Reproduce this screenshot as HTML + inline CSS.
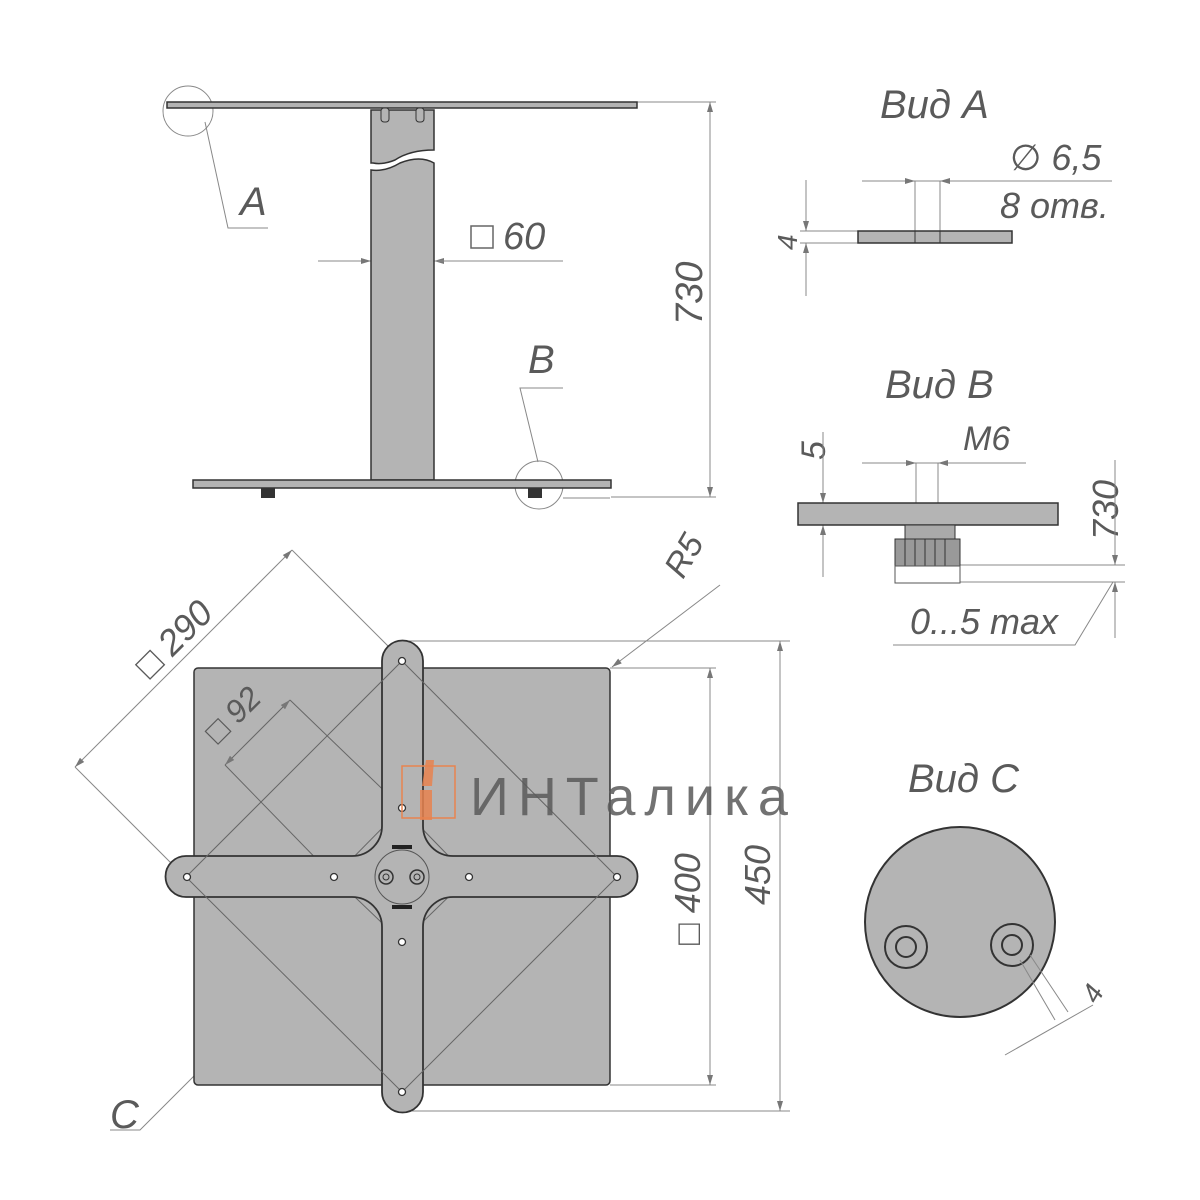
<!DOCTYPE html>
<html><head><meta charset="utf-8"><style>
html,body{margin:0;padding:0;background:#fff;}
svg{display:block}
text{font-family:"Liberation Sans","DejaVu Sans",sans-serif;font-style:italic;fill:#5a5a5a;}
</style></head><body>
<svg width="1200" height="1200" viewBox="0 0 1200 1200" xmlns="http://www.w3.org/2000/svg">
<defs>
<marker id="ar" viewBox="0 0 10 6" refX="10" refY="3" markerWidth="14" markerHeight="6" orient="auto-start-reverse" markerUnits="userSpaceOnUse"><path d="M0,0 L10,3 L0,6 Z" fill="#777"/></marker>
</defs>
<rect width="1200" height="1200" fill="#fff"/>
<g stroke="#888" stroke-width="1" fill="none">
<line x1="637" y1="102" x2="716" y2="102"/>
<line x1="611" y1="497" x2="716" y2="497"/>
<line x1="710" y1="102" x2="710" y2="497" marker-start="url(#ar)" marker-end="url(#ar)"/>
<line x1="318" y1="261" x2="371" y2="261" marker-end="url(#ar)"/>
<line x1="483" y1="261" x2="434" y2="261" marker-end="url(#ar)"/>
<line x1="371" y1="261" x2="563" y2="261"/>
<polyline points="205,122 228,228 268,228"/>
<polyline points="563,388 520,388 538,462"/>
<line x1="563" y1="498" x2="610" y2="498"/>
<circle cx="188" cy="111" r="25"/>
<circle cx="539" cy="485" r="24"/>
</g>
<rect x="167" y="102" width="470" height="6" fill="#b4b4b4" stroke="#333" stroke-width="1.5"/>
<path d="M371,110 L434,110 L434,150 Q410,150 395,160 Q383,165 373,163 L371,163 Z" fill="#b4b4b4" stroke="#333" stroke-width="1.5"/>
<path d="M371,170 Q385,172 400,163 Q420,155 434,163 L434,480 L371,480 Z" fill="#b4b4b4" stroke="#333" stroke-width="1.5"/>
<rect x="381" y="108" width="8" height="14" rx="3" fill="#b4b4b4" stroke="#333"/>
<rect x="416" y="108" width="8" height="14" rx="3" fill="#b4b4b4" stroke="#333"/>
<rect x="193" y="480" width="418" height="8" fill="#b4b4b4" stroke="#333" stroke-width="1.5"/>
<rect x="261" y="488" width="14" height="10" fill="#333"/>
<rect x="528" y="488" width="14" height="10" fill="#333"/>
<text x="240" y="215" font-size="40">A</text>
<text x="528" y="373" font-size="40">B</text>
<rect x="471" y="226" width="22" height="22" fill="none" stroke="#666" stroke-width="1.5"/>
<text x="503" y="249" font-size="38">60</text>
<text transform="translate(702,325) rotate(-90)" font-size="38">730</text>

<text x="880" y="118" font-size="40">Вид А</text>
<g stroke="#888" fill="none">
<line x1="862" y1="181" x2="1112" y2="181"/>
<line x1="915" y1="181" x2="915" y2="231"/><line x1="940" y1="181" x2="940" y2="231"/>
<line x1="872" y1="181" x2="915" y2="181" marker-end="url(#ar)"/>
<line x1="980" y1="181" x2="940" y2="181" marker-end="url(#ar)"/>
<line x1="800" y1="231" x2="858" y2="231"/><line x1="800" y1="243" x2="858" y2="243"/>
<line x1="806" y1="180" x2="806" y2="231" marker-end="url(#ar)"/>
<line x1="806" y1="296" x2="806" y2="243" marker-end="url(#ar)"/>
</g>
<rect x="858" y="231" width="154" height="12" fill="#b4b4b4" stroke="#333" stroke-width="1.5"/>
<line x1="915" y1="231" x2="915" y2="243" stroke="#333"/><line x1="940" y1="231" x2="940" y2="243" stroke="#333"/>
<text x="1010" y="170" font-size="36">∅ 6,5</text>
<text x="1000" y="218" font-size="36">8 отв.</text>
<text transform="translate(797,250) rotate(-90)" font-size="28">4</text>

<text x="885" y="398" font-size="40">Вид В</text>
<text x="963" y="450" font-size="34">M6</text>
<text transform="translate(825,460) rotate(-90)" font-size="34">5</text>
<text transform="translate(1118,540) rotate(-90)" font-size="36">730</text>
<text x="910" y="634" font-size="36">0...5 max</text>
<g stroke="#888" fill="none">
<line x1="862" y1="463" x2="1026" y2="463"/>
<line x1="916" y1="463" x2="916" y2="503"/><line x1="938" y1="463" x2="938" y2="503"/>
<line x1="872" y1="463" x2="916" y2="463" marker-end="url(#ar)"/>
<line x1="982" y1="463" x2="938" y2="463" marker-end="url(#ar)"/>
<line x1="823" y1="432" x2="823" y2="503" marker-end="url(#ar)"/>
<line x1="823" y1="577" x2="823" y2="525" marker-end="url(#ar)"/>
<line x1="960" y1="565" x2="1125" y2="565"/><line x1="960" y1="582" x2="1125" y2="582"/>
<line x1="1115" y1="460" x2="1115" y2="565" marker-end="url(#ar)"/>
<line x1="1115" y1="638" x2="1115" y2="582" marker-end="url(#ar)"/>
<polyline points="893,645 1075,645 1113,582"/>
</g>
<rect x="798" y="503" width="260" height="22" fill="#b4b4b4" stroke="#333" stroke-width="1.5"/>
<rect x="905" y="525" width="50" height="14" fill="#aaa" stroke="#333"/>
<rect x="895" y="539" width="65" height="27" fill="#999" stroke="#333"/>
<g stroke="#333" stroke-width="1"><line x1="905" y1="539" x2="905" y2="566"/><line x1="915" y1="539" x2="915" y2="566"/><line x1="925" y1="539" x2="925" y2="566"/><line x1="935" y1="539" x2="935" y2="566"/><line x1="945" y1="539" x2="945" y2="566"/></g>
<rect x="895" y="566" width="65" height="17" fill="#fff" stroke="#555"/>

<text x="908" y="792" font-size="40">Вид С</text>
<circle cx="960" cy="922" r="95" fill="#b4b4b4" stroke="#333" stroke-width="2"/>
<circle cx="906" cy="947" r="21" fill="#b4b4b4" stroke="#333" stroke-width="2"/>
<circle cx="906" cy="947" r="10" fill="#b4b4b4" stroke="#333" stroke-width="2"/>
<circle cx="1012" cy="945" r="21" fill="#b4b4b4" stroke="#333" stroke-width="2"/>
<circle cx="1012" cy="945" r="10" fill="#b4b4b4" stroke="#333" stroke-width="2"/>
<g stroke="#888" fill="none">
<line x1="1020" y1="960" x2="1055" y2="1020"/><line x1="1030" y1="955" x2="1068" y2="1012"/>
<line x1="1005" y1="1055" x2="1093" y2="1005"/>
</g>
<text transform="translate(1097,1005) rotate(-60)" font-size="28">4</text>

<g stroke="#888" fill="none">
<line x1="400" y1="641" x2="790" y2="641"/>
<line x1="400" y1="1111" x2="790" y2="1111"/>
<line x1="610" y1="668" x2="716" y2="668"/>
<line x1="610" y1="1085" x2="716" y2="1085"/>
<line x1="780" y1="641" x2="780" y2="1111" marker-start="url(#ar)" marker-end="url(#ar)"/>
<line x1="710" y1="668" x2="710" y2="1085" marker-start="url(#ar)" marker-end="url(#ar)"/>
<line x1="720" y1="585" x2="612" y2="667" marker-end="url(#ar)"/>
<line x1="75" y1="767" x2="292" y2="550" marker-start="url(#ar)" marker-end="url(#ar)"/>
<line x1="292" y1="550" x2="402" y2="660"/>
<line x1="75" y1="767" x2="185" y2="877"/>
<polyline points="110,1130 140,1130 210,1060"/>
</g>
<rect x="194" y="668" width="416" height="417" rx="4" fill="#b4b4b4" stroke="#333" stroke-width="1.5"/>
<g stroke="#666" fill="none" stroke-width="1">
<line x1="225" y1="765" x2="290" y2="700" marker-start="url(#ar)" marker-end="url(#ar)"/>
<line x1="290" y1="700" x2="402" y2="808"/>
<line x1="225" y1="765" x2="334" y2="877"/>
<line x1="334" y1="877" x2="402" y2="808"/><line x1="402" y1="808" x2="469" y2="877"/><line x1="469" y1="877" x2="402" y2="942"/><line x1="402" y1="942" x2="334" y2="877"/>
</g>
<path d="M382,661 A20.5,20.5 0 0 1 423,661 L423,826 A30,30 0 0 0 453,856 L617,856 A20.5,20.5 0 0 1 617,897 L453,897 A30,30 0 0 0 423,927 L423,1092 A20.5,20.5 0 0 1 382,1092 L382,927 A30,30 0 0 0 352,897 L186,897 A20.5,20.5 0 0 1 186,856 L352,856 A30,30 0 0 0 382,826 Z" fill="#b4b4b4" stroke="#333" stroke-width="1.8"/>
<g stroke="#666" fill="none" stroke-width="1">
<line x1="186" y1="877" x2="402" y2="661"/>
<line x1="402" y1="661" x2="617" y2="877"/>
<line x1="617" y1="877" x2="402" y2="1092"/>
<line x1="402" y1="1092" x2="186" y2="877"/>
</g>
<g fill="#fff" stroke="#333" stroke-width="1.3">
<circle cx="402" cy="661" r="3.5"/><circle cx="402" cy="808" r="3.5"/><circle cx="402" cy="942" r="3.5"/><circle cx="402" cy="1092" r="3.5"/>
<circle cx="187" cy="877" r="3.5"/><circle cx="334" cy="877" r="3.5"/><circle cx="469" cy="877" r="3.5"/><circle cx="617" cy="877" r="3.5"/>
</g>
<circle cx="402" cy="877" r="27" fill="#b4b4b4" stroke="#555" stroke-width="1"/>
<circle cx="386" cy="877" r="7" fill="#b4b4b4" stroke="#333" stroke-width="1.5"/><circle cx="386" cy="877" r="3" fill="none" stroke="#333"/>
<circle cx="417" cy="877" r="7" fill="#b4b4b4" stroke="#333" stroke-width="1.5"/><circle cx="417" cy="877" r="3" fill="none" stroke="#333"/>
<rect x="392" y="845" width="20" height="4" fill="#222"/><rect x="392" y="905" width="20" height="4" fill="#222"/>
<text transform="translate(150,680) rotate(-45)" font-size="36">□ 290</text>
<text transform="translate(218,745) rotate(-45)" font-size="32">□ 92</text>
<text transform="translate(683,580) rotate(-60)" font-size="34">R5</text>
<text transform="translate(700,945) rotate(-90)" font-size="36">□ 400</text>
<text transform="translate(770,905) rotate(-90)" font-size="36">450</text>
<text x="110" y="1128" font-size="40">C</text>
<rect x="402" y="766" width="53" height="52" fill="none" stroke="#e8834f" stroke-width="1.5"/>
<path d="M420,790 L432,790 L432,820 L420,820 Z M426,760 L434,760 L432,786 L422,786 Z" fill="#e8834f" opacity="0.85"/>
<text x="470" y="815" font-size="54" letter-spacing="9" style="font-style:normal" fill="#808080" opacity="0.85">ИНТалика</text>
</svg>
</body></html>
